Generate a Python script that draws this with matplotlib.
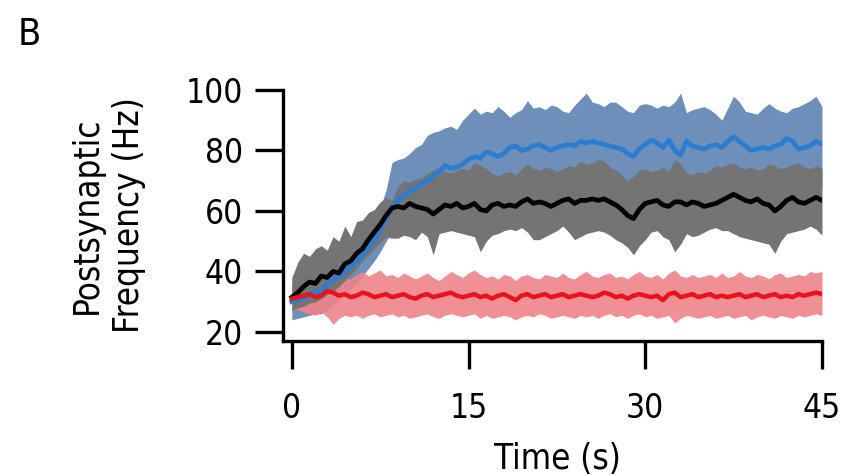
import numpy as np
import matplotlib.pyplot as plt

time = np.arange(0, 45.5, 0.5)

black_mean = [
    31.5, 33.0, 35.0, 36.5, 36.0, 38.5, 38.0, 40.0, 39.5, 42.5,
    43.5, 46.0, 47.5, 50.5, 53.0, 55.5, 58.5, 61.0, 61.5, 61.0,
    62.5, 61.5, 61.0, 60.5, 59.0, 60.5, 62.0, 61.5, 62.5, 61.0,
    61.5, 62.5, 60.5, 60.0, 62.0, 62.5, 61.5, 62.0, 61.5, 63.0,
    64.0, 62.5, 63.0, 62.5, 61.5, 62.5, 63.5, 64.0, 62.5, 63.5,
    63.5, 64.0, 63.5, 64.0, 63.0, 62.0, 60.5, 58.5, 57.5, 60.5,
    62.5, 63.0, 63.5, 62.0, 61.5, 63.0, 63.0, 62.0, 63.0, 62.5,
    61.5, 62.0, 62.5, 63.5, 64.5, 65.5, 64.5, 63.5, 63.0, 64.0,
    62.5, 62.0, 60.0, 61.5, 63.5, 64.5, 63.0, 62.5, 63.5, 64.5,
    63.5]
gray_hi = [
    38.0, 43.0, 46.0, 45.0, 47.5, 48.5, 47.0, 51.5, 50.0, 55.0,
    51.5, 56.5, 57.0, 59.5, 60.5, 63.0, 64.5, 63.5, 68.0, 70.0,
    69.5, 70.5, 71.0, 72.5, 73.5, 74.5, 73.0, 72.5, 73.5, 74.0,
    73.5, 76.0, 75.0, 74.0, 72.5, 71.5, 72.5, 73.0, 72.0, 74.0,
    75.5, 74.0, 73.5, 74.5, 74.0, 73.0, 74.0, 75.0, 74.5, 76.5,
    75.5, 76.0, 77.0, 76.5, 74.5, 73.5, 72.0, 70.0, 71.5, 73.5,
    74.0, 73.0, 73.5, 74.5, 73.0, 77.0, 75.5, 72.5, 72.0, 73.0,
    72.5, 73.5, 75.0, 74.5, 75.5, 76.0, 74.5, 74.0, 74.5, 73.5,
    74.0, 75.5, 75.0, 74.0, 74.5, 75.5, 76.0, 74.5, 74.0, 75.0,
    74.0]
gray_lo = [
    27.0, 28.0, 28.5, 29.5, 30.0, 31.0, 32.5, 33.5, 35.0, 37.0,
    39.0, 41.0, 43.5, 45.5, 47.5, 49.5, 51.5, 51.0, 51.0, 52.0,
    51.5, 50.5, 53.0, 51.5, 45.5, 52.5, 53.0, 53.5, 53.0, 52.5,
    52.0, 51.5, 46.5, 50.0, 52.0, 52.5, 53.5, 54.0, 53.5, 54.5,
    53.0, 50.5, 50.5, 51.5, 52.5, 53.5, 55.0, 53.0, 50.5, 51.5,
    52.5, 53.0, 53.5, 53.0, 52.0, 50.5, 49.5, 48.0, 45.5, 48.5,
    50.5, 53.0, 53.5, 51.5, 50.5, 46.5, 49.0, 52.5, 51.5, 52.0,
    53.0, 54.0, 54.5, 53.5, 53.5, 52.5, 51.5, 51.0, 50.5, 50.0,
    49.5, 49.0, 46.0, 50.0, 52.5, 53.0, 53.5, 54.0, 55.0, 54.0,
    52.0]

blue_mean = [
    30.0, 30.5, 31.5, 32.0, 33.5, 33.0, 36.0, 37.0, 38.5, 40.0,
    41.5, 43.5, 45.5, 48.0, 50.5, 53.5, 57.5, 61.0, 63.5, 65.0,
    66.5, 67.5, 69.0, 70.0, 71.5, 73.0, 75.0, 74.0, 74.5, 75.5,
    77.0, 78.0, 77.5, 79.5, 79.0, 78.0, 79.0, 81.0, 81.5, 80.0,
    80.5, 81.5, 82.0, 81.0, 80.0, 81.0, 81.5, 82.0, 81.5, 83.0,
    82.5, 83.0, 82.5, 82.0, 81.5, 81.0, 80.5, 79.0, 78.0, 80.5,
    82.0, 83.5, 82.5, 81.0, 83.5, 80.0, 78.5, 83.0, 81.5, 81.0,
    80.5, 81.5, 82.0, 81.0, 83.0, 84.5, 83.0, 81.5, 80.0, 80.5,
    81.0, 80.5, 81.5, 82.0, 84.0, 83.0, 80.5, 81.0, 81.5, 83.0,
    82.0]
blue_hi = [
    36.0, 37.0, 38.0, 38.5, 40.0, 40.5, 43.0, 44.0, 46.0, 47.5,
    49.0, 51.0, 53.0, 55.5, 58.0, 61.0, 67.0, 76.0, 77.0, 77.5,
    79.0, 81.0, 82.0, 85.0, 86.0, 86.5, 87.5, 88.0, 87.0, 90.0,
    92.0, 94.0, 92.0, 93.0, 92.5, 94.5, 93.0, 91.0, 92.5, 93.5,
    96.5, 94.0, 94.5, 93.5, 95.0, 94.5, 93.0, 92.5, 95.0, 97.0,
    99.0, 96.0, 95.5, 94.5, 96.0, 96.0, 94.5, 93.0, 92.5, 95.0,
    95.5, 95.0, 94.0, 95.0, 94.5, 96.0, 99.0, 92.5, 93.5, 94.0,
    94.5, 93.5, 92.0, 90.0, 94.0, 98.0, 96.0, 93.0, 92.5, 92.0,
    94.0, 95.5, 94.0, 93.0, 92.5, 94.0, 94.5, 95.5, 96.5, 98.0,
    94.5]
blue_lo = [
    24.0, 24.5, 25.0, 25.5, 26.0, 26.0, 27.5, 29.0, 30.5, 32.5,
    34.0, 36.0, 38.5, 41.0, 43.5, 46.5, 50.0, 53.0, 55.0, 56.5,
    57.5, 58.5, 59.5, 60.5, 61.5, 62.5, 63.0, 63.5, 64.0, 64.5,
    65.0, 65.5, 65.5, 66.0, 66.0, 66.5, 66.5, 67.0, 67.0, 67.5,
    67.5, 67.5, 67.0, 67.5, 68.0, 67.5, 67.5, 68.0, 67.5, 68.0,
    68.0, 68.5, 68.0, 67.5, 67.5, 67.0, 66.5, 65.5, 65.0, 66.5,
    67.5, 68.0, 67.5, 67.0, 67.5, 67.0, 66.0, 67.5, 67.5, 67.0,
    67.0, 67.5, 67.5, 67.0, 67.5, 68.0, 67.5, 67.0, 66.5, 67.0,
    67.0, 67.5, 67.5, 68.0, 68.0, 67.5, 67.0, 67.5, 67.5, 68.0,
    67.5]

red_mean = [
    31.0, 31.5, 32.0, 32.5, 31.5, 32.0, 33.5, 33.0, 32.0, 32.5,
    31.5, 32.0, 33.0, 32.5, 31.5, 32.0, 32.5, 31.5, 32.0, 32.5,
    31.5, 31.0, 32.0, 32.5, 31.5, 32.0, 32.5, 33.0, 32.0, 31.5,
    32.0, 32.5, 31.5, 32.0, 31.0, 32.0, 32.5, 31.5, 30.5, 32.0,
    32.5, 31.5, 32.0, 32.5, 31.5, 32.0, 32.5, 31.5, 32.0, 32.5,
    32.0, 31.5, 32.0, 33.0, 32.5, 31.5, 32.0, 31.0, 32.0, 32.5,
    32.0, 31.5, 32.0, 30.5, 32.5, 33.0, 31.5, 32.0, 32.5, 31.5,
    32.0, 32.5, 31.5, 32.0, 31.5, 32.0, 32.5, 31.5, 32.0, 32.5,
    31.5, 32.0, 32.5, 31.5, 32.0, 31.5, 32.5, 32.0, 32.5, 33.0,
    32.5]
red_hi = [
    34.0, 35.0, 35.5, 36.0, 35.0, 36.5, 37.0, 36.5, 37.5, 38.0,
    37.5, 39.0, 40.0, 38.5, 39.5, 40.5, 38.5, 39.0, 38.0, 39.5,
    38.5, 37.5, 38.5, 39.5, 38.0, 37.0, 38.5, 40.0, 39.0, 38.0,
    39.5, 40.5, 39.0, 38.0, 38.5, 37.5, 39.0, 38.5, 37.0, 38.5,
    39.0, 38.0, 37.5, 39.0, 38.5, 38.0, 39.5, 38.0, 37.5, 39.0,
    40.0, 38.5, 38.0, 39.0, 39.5, 38.0, 38.5, 37.5, 39.0, 40.0,
    38.5, 38.0, 39.0, 37.5, 39.5, 40.5, 38.5, 38.0, 39.0, 38.0,
    38.5, 39.0, 38.0, 39.5, 38.0, 38.5, 40.0, 38.5, 38.0, 39.0,
    38.5, 37.5, 39.0, 39.5, 38.0, 38.5, 39.0, 38.5, 40.0, 39.5,
    40.0]
red_lo = [
    27.0, 27.5, 26.5, 26.0, 25.5, 26.5, 25.0, 22.5, 24.5, 25.5,
    25.0, 25.5, 24.5, 25.5, 26.0, 25.0, 25.5, 26.0, 25.0, 25.5,
    24.5, 25.0, 25.5, 26.0, 25.0, 24.5, 25.5, 26.0, 25.5, 25.0,
    25.5, 26.0, 24.5, 25.5, 24.5, 25.0, 25.5, 25.0, 24.0, 25.0,
    25.5, 25.0, 26.0, 25.5, 24.5, 25.0, 25.5, 25.0, 24.5, 25.5,
    25.0, 25.5, 24.5, 25.5, 26.0, 25.0, 25.5, 24.5, 25.5, 26.0,
    25.0, 25.5, 24.5, 25.0, 25.5, 23.0, 24.5, 25.5, 25.0, 24.5,
    25.0, 25.5, 24.5, 25.0, 25.5, 24.5, 25.0, 25.5, 24.0, 25.0,
    25.5, 25.0, 24.5, 25.5, 25.0, 24.5, 25.5, 25.0, 25.5, 26.0,
    25.5]

xticks = [0, 15, 30, 45]
yticks = [20, 40, 60, 80, 100]

plt.rcParams['font.family'] = 'DejaVu Sans'
plt.rcParams['font.stretch'] = 'condensed'

fig = plt.figure(figsize=(8.46, 4.76), dpi=100)
ax = fig.add_axes([0.3345, 0.2836, 0.6371, 0.5273])

ax.fill_between(time, blue_lo, blue_hi, color='#6d8fb9', lw=0, zorder=1)
ax.fill_between(time, red_lo, red_hi, color='#ef8389', alpha=0.9, lw=0, zorder=2)
ax.fill_between(time, gray_lo, gray_hi, color='#747474', lw=0, zorder=3)
ax.plot(time, blue_mean, color='#2b7dd2', lw=3.4, zorder=4)
ax.plot(time, black_mean, color='black', lw=3.4, zorder=5)
ax.plot(time, red_mean, color='#e8141c', lw=3.2, zorder=6)

ax.set_xlim(-0.75, 45)
ax.set_ylim(17, 100)
ax.set_xticks(xticks)
ax.set_yticks(yticks)
for side in ['top', 'right']:
    ax.spines[side].set_visible(False)
for side in ['left', 'bottom']:
    ax.spines[side].set_linewidth(2.4)
ax.tick_params(axis='both', direction='out', length=20, width=2.4,
               labelsize=24, colors='black')
ax.tick_params(axis='x', pad=17)
ax.tick_params(axis='y', pad=9)

ax.set_xlabel('Time (s)', fontsize=25, va='center')
ax.xaxis.set_label_coords(0.51, -0.47)
ax.set_ylabel('Postsynaptic\nFrequency (Hz)', fontsize=25, va='center',
              multialignment='center', linespacing=1.3)
ax.yaxis.set_label_coords(-0.324, 0.5)

fig.text(0.021, 0.926, 'B', fontsize=27, va='center', ha='left')

fig.savefig('out.png', dpi=100)
